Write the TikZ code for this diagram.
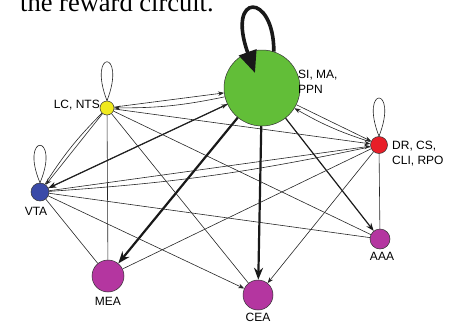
\documentclass[tikz,border=0pt]{standalone}
\usepackage{fontspec}
\setmainfont{Liberation Serif}
\setsansfont{Liberation Sans}
\usetikzlibrary{arrows.meta}
\definecolor{sigreen}{RGB}{98,190,56}
\definecolor{lcyellow}{RGB}{240,234,30}
\definecolor{drred}{RGB}{232,30,40}
\definecolor{vtablue}{RGB}{58,74,168}
\definecolor{amygdala}{RGB}{180,54,160}

\begin{document}
\begin{tikzpicture}[x=1pt, y=-1pt,
  region/.style={circle, draw=black!80, line width=0.5pt, inner sep=0pt},
  tag/.style={font=\sffamily\fontsize{12}{15}\selectfont, align=left, inner sep=0pt},
  link/.style={draw=black!85, line width=0.6pt},
  arr/.style={link, -{Stealth[length=6pt,width=4.5pt]}},
  mid/.style={draw=black!90, line width=1.2pt, -{Stealth[length=8pt,width=6pt]}},
  heavy/.style={draw=black!90, line width=2.2pt, -{Stealth[length=12pt,width=9pt]}}]
\useasboundingbox (0,0) rectangle (458,324);
\clip (0,0) rectangle (458,324);
\node[anchor=base west, inner sep=0pt, font=\fontsize{26.5}{28}\selectfont] (caption) at (20,11) {the reward circuit.};
%Regions
\node[region, fill=sigreen, minimum size=76pt] (si) at (262,88) {};
\node[region, fill=lcyellow, minimum size=14pt] (lc) at (107,108) {};
\node[region, fill=drred, minimum size=17pt] (dr) at (379,145) {};
\node[region, fill=vtablue, minimum size=18pt] (vta) at (40,192) {};
\node[region, fill=amygdala, minimum size=20pt] (aaa) at (380,239) {};
\node[region, fill=amygdala, minimum size=32pt] (mea) at (108,276) {};
\node[region, fill=amygdala, minimum size=30pt] (cea) at (258,295) {};
%Labels
\node[tag, anchor=north west] (silab) at (298,70) {SI, MA,\\PPN};
\node[tag, anchor=north west] (drlab) at (392,141) {DR, CS,\\CLI, RPO};
\node[tag, anchor=base east] (lclab) at (100,108) {LC, NTS};
\node[tag, anchor=base] (vtalab) at (36,215) {VTA};
\node[tag, anchor=base] (mealab) at (108,305) {MEA};
\node[tag, anchor=base] (cealab) at (258,321) {CEA};
\node[tag, anchor=base] (aaalab) at (382,260) {AAA};
%Self loops
\coordinate (sitip) at (255,73);
\draw[line width=3.6pt, black!90, -{Triangle[length=22pt,width=18pt]}]
  (si.72) .. controls (274,-8) and (226,-8) .. (sitip);
\draw[link] (lc.north) .. controls +(-20,-52) and +(20,-52) .. (lc.north);
\draw[link] (vta.north) .. controls +(-21,-50) and +(21,-50) .. (vta.north);
\draw[link] (dr.north) .. controls +(-20,-51) and +(20,-51) .. (dr.north);
%From SI
\draw[heavy] (si) -- (mea);
\draw[heavy] (si) -- (cea);
\draw[mid] (si) -- (aaa);
\draw[mid] (si) -- (vta);
\draw[arr] (si) -- (dr);
\draw[arr, bend left=6] (dr) to (si);
\draw[arr, bend left=6] (si) to (lc);
\draw[arr] (lc) -- (si);
\draw[arr] (vta) -- (si);
%From LC
\draw[arr] (lc) -- (vta);
\draw[link, bend left=6] (vta) to (lc);
\draw[arr] (lc) -- (dr);
\draw[link] (lc) -- (mea);
\draw[link] (lc) -- (cea);
\draw[link] (lc) -- (aaa);
%From VTA
\draw[arr] (vta) -- (dr);
\draw[link, bend left=4] (dr) to (vta);
\draw[link] (vta) -- (mea);
\draw[arr] (vta) -- (cea);
\draw[link] (vta) -- (aaa);
%From DR
\draw[link] (dr) -- (aaa);
\draw[arr] (dr) -- (cea);
\draw[link] (dr) -- (mea);
\end{tikzpicture}
\end{document}
